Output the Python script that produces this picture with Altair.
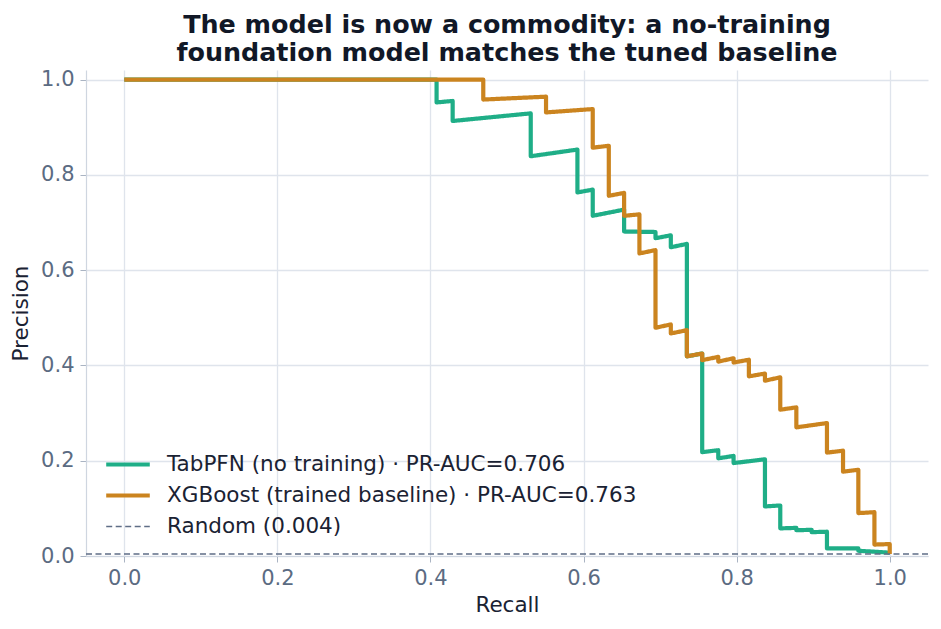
import altair as alt
import pandas as pd

# Precision-recall curves (recall, precision) for the two models, in threshold order
tabpfn_recall = [0.0, 0.408, 0.408, 0.429, 0.429, 0.531, 0.531, 0.592, 0.592, 0.612, 0.612,
                 0.653, 0.653, 0.694, 0.694, 0.714, 0.714, 0.735, 0.735, 0.755, 0.755,
                 0.776, 0.776, 0.796, 0.796, 0.837, 0.837, 0.857, 0.857, 0.878, 0.878,
                 0.898, 0.898, 0.918, 0.918, 0.959, 0.959, 1.0]
tabpfn_precision = [1.0, 1.0, 0.952, 0.955, 0.913, 0.929, 0.839, 0.853, 0.763, 0.769, 0.714,
                    0.727, 0.681, 0.680, 0.667, 0.673, 0.648, 0.655, 0.419, 0.425, 0.218,
                    0.222, 0.205, 0.210, 0.195, 0.203, 0.104, 0.106, 0.058, 0.059, 0.054,
                    0.055, 0.050, 0.051, 0.016, 0.016, 0.011, 0.007]

xgb_recall = [0.0, 0.469, 0.469, 0.551, 0.551, 0.612, 0.612, 0.633, 0.633, 0.653, 0.653,
              0.673, 0.673, 0.694, 0.694, 0.714, 0.714, 0.735, 0.735, 0.755, 0.755,
              0.776, 0.776, 0.796, 0.796, 0.816, 0.816, 0.837, 0.837, 0.857, 0.857,
              0.878, 0.878, 0.918, 0.918, 0.939, 0.939, 0.959, 0.959, 0.980, 0.980,
              1.0, 1.0]
xgb_precision = [1.0, 1.0, 0.958, 0.964, 0.931, 0.938, 0.857, 0.861, 0.756, 0.762, 0.714,
                 0.717, 0.635, 0.642, 0.479, 0.486, 0.467, 0.474, 0.419, 0.425, 0.411,
                 0.418, 0.408, 0.415, 0.406, 0.412, 0.377, 0.383, 0.368, 0.375, 0.307,
                 0.312, 0.270, 0.279, 0.217, 0.221, 0.177, 0.181, 0.090, 0.092, 0.024,
                 0.025, 0.004]

baseline_rate = 0.004

series_names = [
    "TabPFN (no training) · PR-AUC=0.706",
    "XGBoost (trained baseline) · PR-AUC=0.763",
    "Random (0.004)",
]
series_colors = ["#1fae87", "#cb841f", "#5f6e86"]
series_dashes = [[1, 0], [1, 0], [6, 3.5]]
series_widths = [4.2, 4.2, 1.5]
x_ticks = [0.0, 0.2, 0.4, 0.6, 0.8, 1.0]
y_ticks = [0.0, 0.2, 0.4, 0.6, 0.8, 1.0]

FONT = "DejaVu Sans"

curves = pd.concat([
    pd.DataFrame({"series": series_names[0], "recall": tabpfn_recall,
                  "precision": tabpfn_precision, "step": range(len(tabpfn_recall))}),
    pd.DataFrame({"series": series_names[1], "recall": xgb_recall,
                  "precision": xgb_precision, "step": range(len(xgb_recall))}),
], ignore_index=True)

baseline = pd.DataFrame({"series": [series_names[2]], "precision": [baseline_rate]})

legend = alt.Legend(
    title=None, orient="none", legendX=18, legendY=379,
    symbolType="stroke", symbolSize=1900, labelFontSize=21.5, labelFont=FONT,
    labelColor="#1a2233", labelOffset=15, rowPadding=0, padding=0,
    labelLimit=700, clipHeight=31,
)

color = alt.Color("series:N", scale=alt.Scale(domain=series_names, range=series_colors), legend=legend)
dash = alt.StrokeDash("series:N", scale=alt.Scale(domain=series_names, range=series_dashes), legend=legend)
width = alt.StrokeWidth("series:N", scale=alt.Scale(type="ordinal", domain=series_names, range=series_widths), legend=legend)

x_enc = alt.X(
    "recall:Q",
    scale=alt.Scale(domain=[-0.05, 1.05], nice=False, zero=False),
    axis=alt.Axis(values=x_ticks, format=".1f", title="Recall"),
)
y_enc = alt.Y(
    "precision:Q",
    scale=alt.Scale(domain=[0, 1.02], nice=False, zero=False),
    axis=alt.Axis(values=y_ticks, format=".1f", title="Precision"),
)

lines = alt.Chart(curves).mark_line(strokeJoin="round", strokeCap="butt").encode(
    x=x_enc, y=y_enc, color=color, strokeDash=dash, strokeWidth=width,
    order=alt.Order("step:Q"),
)

random_line = alt.Chart(baseline).mark_rule().encode(
    y=alt.Y("precision:Q"), color=color, strokeDash=dash, strokeWidth=width,
)

chart = (
    alt.layer(lines, random_line)
    .properties(
        width=842, height=486,
        autosize=alt.AutoSizeParams(type="none"),
        padding={"left": 86, "top": 70, "right": 13, "bottom": 73},
        background="white",
        title=alt.Title(
            ["The model is now a commodity: a no-training",
             "foundation model matches the tuned baseline"],
            font=FONT, fontSize=25.4, fontWeight="bold", color="#111827",
            anchor="middle", lineHeight=28, offset=2,
        ),
    )
    .configure_view(strokeWidth=0)
    .configure_axis(
        labelFont=FONT, labelFontSize=21, labelColor="#5b6b82",
        titleFont=FONT, titleFontSize=21.5, titleFontWeight="normal", titleColor="#1a2233",
        domainColor="#cfd6e0", domainWidth=1.2, tickColor="#aab4c3", tickSize=6,
        gridColor="#dfe4ec", gridWidth=1.3,
    )
    .configure_axisX(labelPadding=5, titlePadding=6)
    .configure_axisY(labelPadding=6, titlePadding=8)
)

chart.save("out.html", embed_options={"renderer": "svg", "actions": False})
